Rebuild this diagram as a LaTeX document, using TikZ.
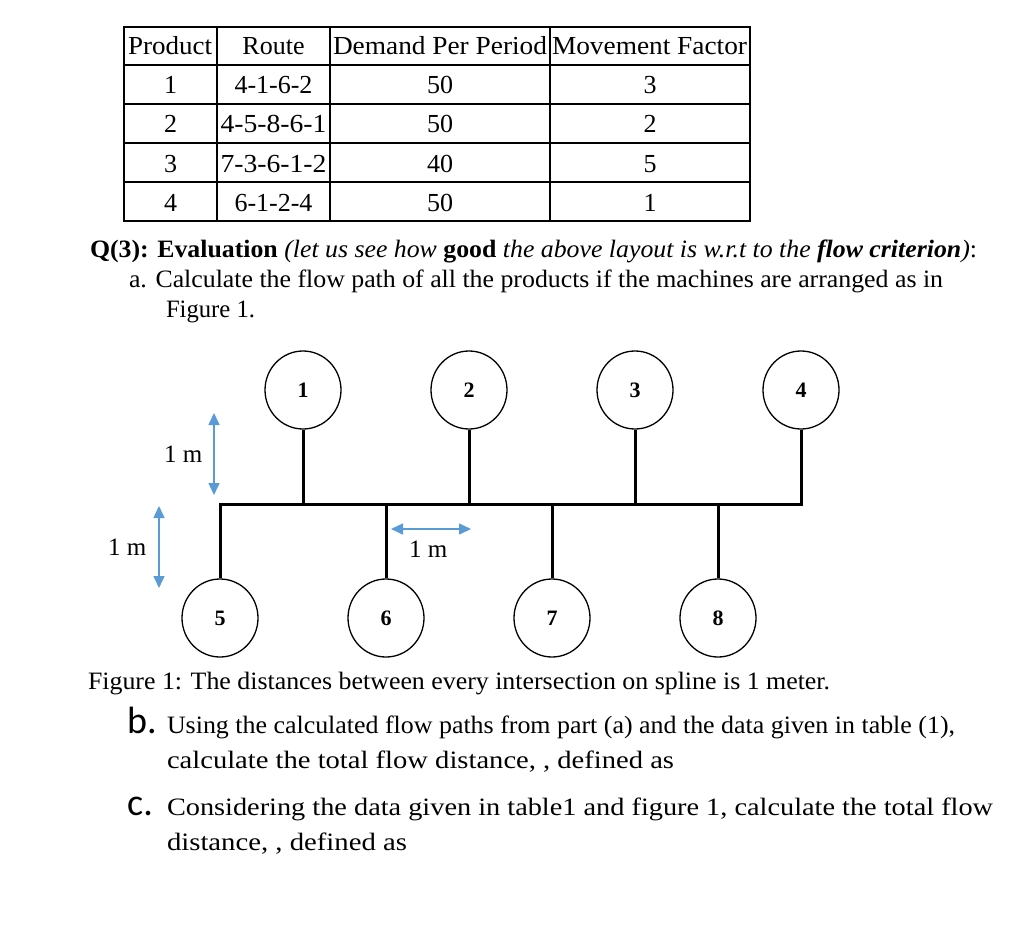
\documentclass[tikz,border=0pt]{standalone}
\usepackage{graphicx}
\usepackage{fontspec}
\setmainfont{Liberation Serif}
\newfontfamily\calib{Carlito}
\usetikzlibrary{arrows.meta,shapes.geometric}
\definecolor{dimblue}{HTML}{5B9BD5}
\newcommand{\fitw}[2]{\resizebox{#1pt}{\height}{#2}}
\begin{document}
\begin{tikzpicture}[x=1pt,y=-1pt,
  txt/.style={anchor=base west, inner sep=0pt, outer sep=0pt, font=\fontsize{25}{28}\selectfont},
  cell/.style={anchor=base, inner sep=0pt, outer sep=0pt, font=\fontsize{26}{30}\selectfont},
  grid/.style={line width=2.6pt, line cap=rect},
  machine/.style={draw, ellipse, minimum width=76pt, minimum height=78pt, inner sep=0pt, line width=1.3pt, font=\fontsize{22}{24}\selectfont\bfseries},
  bus/.style={line width=3pt},
  dimarrow/.style={draw=dimblue, line width=1.5pt, {Triangle[length=12pt,width=11pt]}-{Triangle[length=12pt,width=11pt]}, fill=dimblue},
  dimlabel/.style={anchor=base west, inner sep=0pt, font=\fontsize{25}{28}\selectfont},
  letter/.style={anchor=base west, inner sep=0pt, font=\calib\fontsize{38}{40}\selectfont}]
\path[fill=white, use as bounding box] (0,0) rectangle (1024,944);

% ---------- table ----------
\draw[grid] (124,27) rectangle (750,221);
\foreach \yy in {65,104,143,182} \draw[grid] (124,\yy) -- (750,\yy);
\foreach \xx in {217,330,550} \draw[grid] (\xx,27) -- (\xx,221);

\node[txt, font=\fontsize{26}{30}\selectfont] (hProduct) at (128,55) {\fitw{84}{Product}};
\node[cell] (hRoute) at (273.5,55) {Route};
\node[txt, font=\fontsize{26}{30}\selectfont] (hDemand) at (333,55) {\fitw{214}{Demand Per Period}};
\node[txt, font=\fontsize{26}{30}\selectfont] (hMove) at (552,55) {\fitw{195}{Movement Factor}};

\node[cell] (p1) at (170.5,94) {1};
\node[cell] (r1) at (273.5,94) {4-1-6-2};
\node[cell] (d1) at (440,94) {50};
\node[cell] (f1) at (650,94) {3};

\node[cell] (p2) at (170.5,133) {2};
\node[cell] (r2) at (273.5,133) {\fitw{106}{4-5-8-6-1}};
\node[cell] (d2) at (440,133) {50};
\node[cell] (f2) at (650,133) {2};

\node[cell] (p3) at (170.5,172) {3};
\node[cell] (r3) at (273.5,172) {\fitw{106}{7-3-6-1-2}};
\node[cell] (d3) at (440,172) {40};
\node[cell] (f3) at (650,172) {5};

\node[cell] (p4) at (170.5,211) {4};
\node[cell] (r4) at (273.5,211) {6-1-2-4};
\node[cell] (d4) at (440,211) {50};
\node[cell] (f4) at (650,211) {1};

% ---------- question text ----------
\node[txt] (q3) at (90,257) {\fitw{887}{{\bfseries Q(3): Evaluation} {\itshape (let us see how} {\bfseries good} {\itshape the above layout is w.r.t to the} {\bfseries\itshape flow criterion}{\itshape )}:}};
\node[txt] (qa1) at (129,287) {\fitw{814}{a. Calculate the flow path of all the products if the machines are arranged as in}};
\node[txt] (qa2) at (166,317) {\fitw{89}{Figure 1.}};

% ---------- figure ----------
\node[machine] (m1) at (303,390) {1};
\node[machine] (m2) at (469,390) {2};
\node[machine] (m3) at (635,390) {3};
\node[machine] (m4) at (801,390) {4};
\node[machine] (m5) at (220,618) {5};
\node[machine] (m6) at (386,618) {6};
\node[machine] (m7) at (552,618) {7};
\node[machine] (m8) at (718,618) {8};

\coordinate (busL) at (220,504);
\coordinate (busR) at (801,504);
\draw[bus] (m5.north) -- (busL) -- (busR) -- (m4.south);
\draw[bus] (m1.south) -- (m1.south |- busL);
\draw[bus] (m2.south) -- (m2.south |- busL);
\draw[bus] (m3.south) -- (m3.south |- busL);
\draw[bus] (m6.north) -- (m6.north |- busL);
\draw[bus] (m7.north) -- (m7.north |- busL);
\draw[bus] (m8.north) -- (m8.north |- busL);

% dimension arrows
\coordinate (v1a) at (214,413);
\coordinate (v1b) at (214,495);
\coordinate (v2a) at (159,506);
\coordinate (v2b) at (159,588);
\coordinate (h1a) at (391,529);
\coordinate (h1b) at (471,529);
\draw[dimarrow] (v1a) -- (v1b);
\draw[dimarrow] (v2a) -- (v2b);
\draw[dimarrow] (h1a) -- (h1b);
\node[dimlabel] (l1) at (164,462) {1 m};
\node[dimlabel] (l2) at (108,555) {1 m};
\node[dimlabel] (l3) at (409,557) {1 m};

% ---------- lower text ----------
\node[txt] (cap) at (88,689) {\fitw{742}{Figure 1: The distances between every intersection on spline is 1 meter.}};
\node[letter] (lb) at (127,733) {b.};
\node[txt] (b1) at (167,733) {\fitw{788}{Using the calculated flow paths from part (a) and the data given in table (1),}};
\node[txt] (b2) at (167,768) {\fitw{507}{calculate the total flow distance, , defined as}};
\node[letter] (lc) at (127,815) {c.};
\node[txt] (c1) at (167,815) {\fitw{826}{Considering the data given in table1 and figure 1, calculate the total flow}};
\node[txt] (c2) at (167,850) {\fitw{240}{distance, , defined as}};
\end{tikzpicture}
\end{document}
